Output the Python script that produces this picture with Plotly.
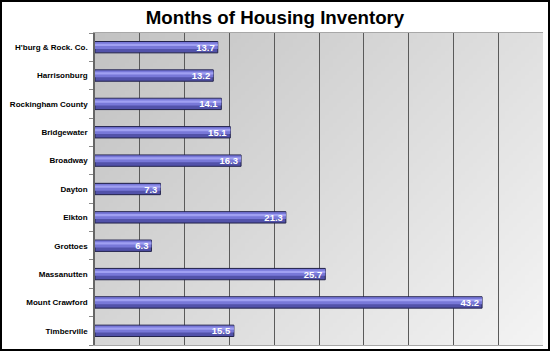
import base64, struct, zlib
import plotly.graph_objects as go

categories = ["H'burg & Rock. Co.", "Harrisonburg", "Rockingham County", "Bridgewater",
              "Broadway", "Dayton", "Elkton", "Grottoes", "Massanutten",
              "Mount Crawford", "Timberville"]
months = [13.7, 13.2, 14.1, 15.1, 16.3, 7.3, 21.3, 6.3, 25.7, 43.2, 15.5]
labels = [f"<b>{v:.1f}</b>" for v in months]

W, H = 550, 352
L, R, T, B = 95, 7, 33, 7
PW, PH = W - L - R, H - T - B


def gradient_png(w, h, c0, c1):
    rows = []
    for y in range(h):
        row = bytearray([0])
        for x in range(w):
            t = (x / (w - 1) * 0.6 + y / (h - 1) * 0.4)
            v = int(round(c0 + (c1 - c0) * t))
            row += bytes([v, v, v])
        rows.append(bytes(row))
    raw = b"".join(rows)

    def chunk(tag, data):
        c = struct.pack(">I", len(data)) + tag + data
        return c + struct.pack(">I", zlib.crc32(tag + data) & 0xffffffff)

    png = b"\x89PNG\r\n\x1a\n" + chunk(b"IHDR", struct.pack(">IIBBBBB", w, h, 8, 2, 0, 0, 0))
    png += chunk(b"IDAT", zlib.compress(raw, 9)) + chunk(b"IEND", b"")
    return "data:image/png;base64," + base64.b64encode(png).decode()


bg = gradient_png(112, 78, 194, 244)

fig = go.Figure()
# base bar (dark tube)
fig.add_trace(go.Bar(y=categories, x=months, orientation="h", width=0.4,
                     marker=dict(color="#5252aa", line=dict(color="#22224a", width=1)),
                     hoverinfo="skip"))
# middle tone
fig.add_trace(go.Bar(y=categories, x=months, orientation="h", width=0.24, offset=-0.18,
                     marker=dict(color="#7878d8", line=dict(width=0)), hoverinfo="skip"))
# highlight
fig.add_trace(go.Bar(y=categories, x=months, orientation="h", width=0.08, offset=-0.12,
                     marker=dict(color="#a0a0f2", line=dict(width=0)), hoverinfo="skip"))
# labels
fig.add_trace(go.Bar(y=categories, x=months, orientation="h", width=0.4,
                     marker=dict(color="rgba(0,0,0,0)", line=dict(width=0)),
                     text=labels, textposition="inside", insidetextanchor="end",
                     constraintext="none",
                     textfont=dict(family="Liberation Sans, Arial", size=9.5, color="white"),
                     hoverinfo="skip"))

def px_x(p):
    return (p - L) / PW

def px_y(p):
    return 1 - (p - T) / PH

fig.update_layout(
    width=W, height=H,
    margin=dict(l=L, r=R, t=T, b=B),
    paper_bgcolor="white", plot_bgcolor="rgba(0,0,0,0)",
    barmode="overlay", showlegend=False,
    title=dict(text="<b>Months of Housing Inventory</b>", x=0.5, xanchor="center",
               y=1 - 17 / H, yanchor="middle",
               font=dict(family="Liberation Sans, Arial", size=18.7, color="black")),
    xaxis=dict(range=[0, 50], dtick=5, showticklabels=False, showgrid=True,
               gridcolor="#5a5a5a", gridwidth=1, zeroline=False,
               showline=True, linecolor="#a8a8a8", linewidth=1, mirror=True, ticks="",
               automargin=False),
    yaxis=dict(autorange="reversed", tickson="boundaries", ticks="outside", ticklen=4,
               tickcolor="#888888", showgrid=False, showline=True, linecolor="#666666",
               linewidth=1.5, automargin=False,
               tickfont=dict(family="Liberation Sans, Arial", size=8, color="black"),
               ticklabelstandoff=4),
    images=[dict(source=bg, xref="paper", yref="paper", x=0, y=1, sizex=1, sizey=1,
                 sizing="stretch", layer="below", xanchor="left", yanchor="top")],
    shapes=[dict(type="rect", xref="paper", yref="paper",
                 x0=px_x(1), x1=px_x(549), y0=px_y(350), y1=px_y(1),
                 line=dict(color="black", width=2), fillcolor="rgba(0,0,0,0)")],
)
fig.update_yaxes(ticktext=[f"<b>{c}</b>" for c in categories], tickvals=categories)

fig.write_html("out.html")
